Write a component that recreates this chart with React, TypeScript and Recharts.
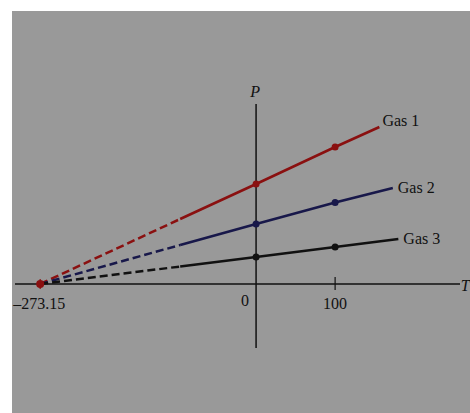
import React from "react";
import { LineChart, Line, XAxis, YAxis, ReferenceLine, ReferenceDot } from "recharts";

// temperatures (°C) for each gas: absolute zero, end of dashes, 0, 100, end of line
const gasNames = ["Gas 1", "Gas 2", "Gas 3"];
const gasT = [
  [-273.15, -96, 0, 100, 156],
  [-273.15, -96, 0, 100, 173],
  [-273.15, -96, 0, 100, 180],
];
const gasP = [
  [0, 65, 100, 137, 157],
  [0, 39, 60, 81.5, 96],
  [0, 17.5, 27, 37, 45],
];
const tickT = [-273.15, 0, 100];
const tickLabels = ["\u2013273.15", "0", "100"];

const colors = ["#8a1010", "#18184a", "#111111"];
const gasLabelOffset = [
  [3, -1],
  [5, 5],
  [5, 5],
];
const tickLabelOffset = [
  [-1, 25],
  [-11, 22],
  [0, 25],
];

const font = "'Liberation Serif', 'Times New Roman', serif";
const ink = "#111";

const rows = (g: number) => gasT[g].map((t, i) => ({ t, p: gasP[g][i] }));
const dashedRows = (g: number) => rows(g).slice(0, 2);
const solidRows = (g: number) => rows(g).slice(1);

const textShape =
  (text: string, dx: number, dy: number, anchor: string, italic = false) =>
  (props: any) =>
    (
      <text
        x={props.cx + dx}
        y={props.cy + dy}
        textAnchor={anchor}
        fontFamily={font}
        fontSize={16}
        fontStyle={italic ? "italic" : "normal"}
        fill={ink}
      >
        {text}
      </text>
    );

const App = () => {
  return (
    <div style={{ position: "relative", width: 470, height: 413, background: "#fff" }}>
      <style>{"body { margin: 0; overflow: hidden; }"}</style>
      <div style={{ position: "absolute", left: 12, top: 11, width: 458, height: 402, background: "#999999" }}>
        <LineChart width={458} height={402} margin={{ top: 93, right: 10, bottom: 65, left: 3 }}>
          <XAxis type="number" dataKey="t" domain={[-305, 258]} allowDataOverflow hide />
          <YAxis type="number" dataKey="p" domain={[-64, 180]} allowDataOverflow hide />
          <ReferenceLine y={0} stroke={ink} strokeWidth={1.5} />
          <ReferenceLine x={0} stroke={ink} strokeWidth={1.5} />
          <ReferenceLine segment={[{ x: 100, y: -6 }, { x: 100, y: 7 }]} stroke={ink} strokeWidth={1.2} />
          <ReferenceLine segment={[{ x: -273.15, y: -5 }, { x: -273.15, y: 5 }]} stroke={colors[0]} strokeWidth={1.2} />
          {gasNames.map((name, g) => (
            <Line
              key={name + "d"}
              data={dashedRows(g)}
              dataKey="p"
              type="linear"
              stroke={colors[g]}
              strokeWidth={2.5}
              strokeDasharray="8 4"
              dot={false}
              isAnimationActive={false}
            />
          ))}
          {gasNames.map((name, g) => (
            <Line
              key={name + "s"}
              data={solidRows(g)}
              dataKey="p"
              type="linear"
              stroke={colors[g]}
              strokeWidth={2.5}
              dot={(props: any) =>
                props.payload.t === 0 || props.payload.t === 100 ? (
                  <circle key={props.index} cx={props.cx} cy={props.cy} r={3.5} fill={colors[g]} />
                ) : (
                  <g key={props.index} />
                )
              }
              isAnimationActive={false}
            />
          ))}
          <ReferenceDot x={-273.15} y={0} r={4} fill={colors[0]} stroke="none" />
          {gasNames.map((name, g) => (
            <ReferenceDot
              key={name + "l"}
              x={gasT[g][4]}
              y={gasP[g][4]}
              shape={textShape(name, gasLabelOffset[g][0], gasLabelOffset[g][1], "start")}
            />
          ))}
          {tickT.map((t, i) => (
            <ReferenceDot
              key={"tick" + i}
              x={t}
              y={0}
              shape={textShape(tickLabels[i], tickLabelOffset[i][0], tickLabelOffset[i][1], "middle")}
            />
          ))}
          <ReferenceDot x={0} y={179} shape={textShape("P", -1, -8, "middle", true)} />
          <ReferenceDot x={250} y={0} shape={textShape("T", 7, 7, "start", true)} ifOverflow="visible" />
        </LineChart>
      </div>
    </div>
  );
};

export default App;
